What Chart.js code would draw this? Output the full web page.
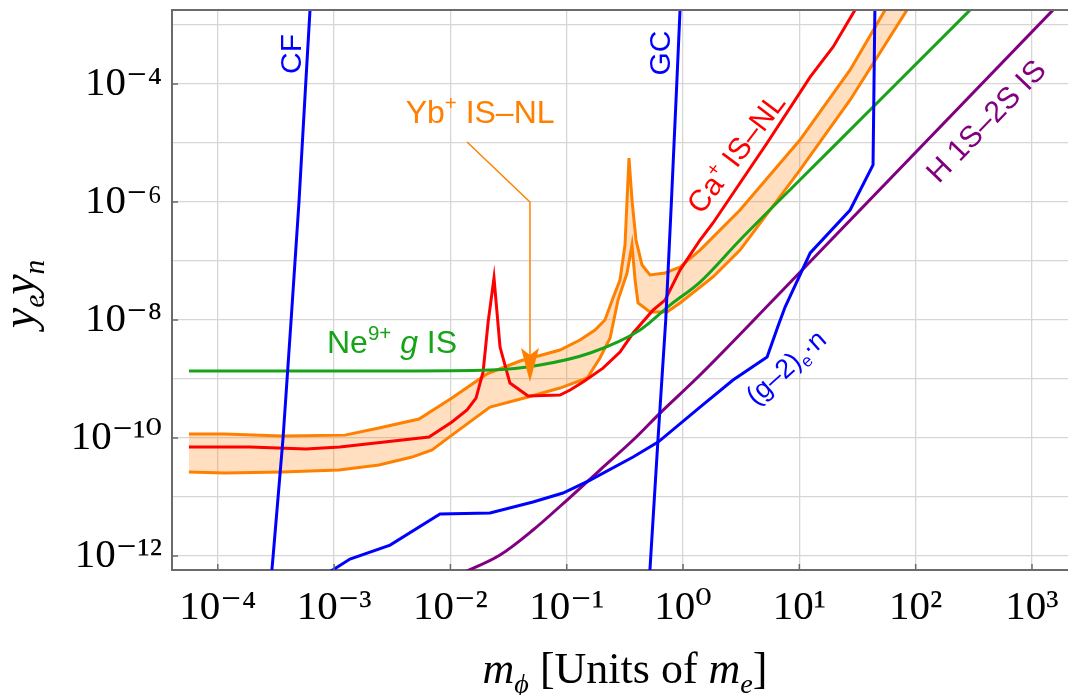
<!DOCTYPE html>
<html>
<head>
<meta charset="utf-8">
<script src="https://cdn.jsdelivr.net/npm/chart.js@4.4.0/dist/chart.umd.min.js"></script>
<style>
  html, body { margin: 0; padding: 0; background: #fff; }
</style>
</head>
<body>
<canvas id="boundChart" width="1068" height="695"></canvas>
<script>
// axes: m_phi [units of m_e] vs y_e*y_n, both log
var xTickValues = [1e-4, 1e-3, 1e-2, 1e-1, 1e0, 1e1, 1e2, 1e3];
var xTickLabels = ['10⁻⁴', '10⁻³', '10⁻²', '10⁻¹', '10⁰', '10¹', '10²', '10³'];
var yTickValues = [1e-12, 1e-11, 1e-10, 1e-9, 1e-8, 1e-7, 1e-6, 1e-5, 1e-4, 1e-3];
var yTickLabels = ['10⁻¹²', '', '10⁻¹⁰', '', '10⁻⁸', '', '10⁻⁶', '', '10⁻⁴', ''];

// CF (blue, left steep line)
var cfX = [2.70e-4, 2.99e-4, 3.64e-4, 4.27e-4, 4.99e-4, 5.70e-4, 6.53e-4];
var cfY = [1e-13, 1e-12, 1e-10, 1e-8, 1e-6, 1e-4, 1e-2];

// GC (blue, near m_phi = 1)
var gcX = [0.492, 0.528, 0.610, 0.710, 0.794, 0.883, 0.979];
var gcY = [1e-13, 1e-12, 1e-10, 1e-8, 1e-6, 1e-4, 1e-2];

// (g-2)_e * n (blue)
var g2X = [7.57e-4, 1.37e-3, 3.03e-3, 8.14e-3, 2.19e-2, 5.13e-2, 9.29e-2, 0.159, 0.372, 0.610, 1.40, 2.69, 5.28, 6.56, 7.54, 12.4, 27.3, 43.0, 44.8];
var g2Y = [4.24e-13, 8.89e-13, 1.53e-12, 5.15e-12, 5.36e-12, 8.22e-12, 1.17e-11, 1.94e-11, 4.76e-11, 8.55e-11, 3.35e-10, 9.62e-10, 2.36e-9, 7.91e-9, 1.66e-8, 1.37e-7, 7.31e-7, 4.24e-6, 3.92e-3];

// H 1S-2S IS (purple)
var hX = [1.21e-2, 2.67e-2, 5.13e-2, 0.1006, 0.193, 0.372, 0.634, 1.40, 6.43, 1518, 2128];
var hY = [4.95e-13, 1.04e-12, 2.76e-12, 8.89e-12, 2.87e-11, 9.25e-11, 2.65e-10, 1.17e-9, 2.55e-8, 1.80e-3, 3.62e-3];

// Ne9+ g IS (green)
var neX = [5.65e-5, 5.09e-4, 3.69e-3, 2.19e-2, 5.89e-2, 0.159, 0.427, 0.773, 1.40, 3.09, 10.1, 40.5, 294, 436];
var neY = [1.37e-9, 1.37e-9, 1.37e-9, 1.42e-9, 1.73e-9, 2.76e-9, 6.78e-9, 1.79e-8, 4.40e-8, 2.27e-7, 2.36e-6, 3.62e-5, 1.80e-3, 3.92e-3];

// Ca+ IS-NL (red)
var caX = [5.65e-5, 1.89e-4, 5.73e-4, 1.12e-3, 6.55e-3, 1.03e-2, 1.39e-2, 1.66e-2, 1.91e-2, 2.11e-2, 2.37e-2, 2.67e-2, 3.25e-2, 4.65e-2, 8.75e-2, 0.107, 0.138, 0.205, 0.287, 0.372, 0.552, 0.700, 0.942, 1.40, 1.81, 3.09, 5.28, 12.4, 19.5, 30.1, 40.5];
var caY = [7.03e-11, 7.03e-11, 6.52e-11, 7.03e-11, 1.04e-10, 1.87e-10, 2.99e-10, 4.76e-10, 1.32e-9, 9.25e-9, 5.15e-8, 3.48e-9, 8.55e-10, 5.15e-10, 5.36e-10, 6.52e-10, 8.89e-10, 1.53e-9, 2.87e-9, 6.02e-9, 1.47e-8, 2.18e-8, 7.03e-8, 2.27e-7, 4.41e-7, 2.10e-6, 1.0e-5, 1.32e-4, 4.24e-4, 1.80e-3, 4.76e-3];

// Yb+ IS-NL band (orange), upper and lower edge
var ybUpX = [5.65e-5, 1.15e-4, 3.56e-4, 1.24e-3, 2.43e-3, 5.37e-3, 1.03e-2, 2.06e-2, 3.97e-2, 8.75e-2, 0.130, 0.175, 0.213, 0.250, 0.287, 0.317, 0.343, 0.364, 0.394, 0.444, 0.520, 0.700, 0.942, 1.40, 3.09, 10.1, 27.3, 54.6, 73.5];
var ybUpY = [1.17e-10, 1.17e-10, 1.08e-10, 1.12e-10, 1.48e-10, 2.10e-10, 4.76e-10, 1.22e-9, 2.02e-9, 3.10e-9, 4.58e-9, 6.78e-9, 1.0e-8, 2.36e-8, 4.76e-8, 1.87e-7, 5.57e-6, 1.08e-6, 2.27e-7, 8.55e-8, 5.80e-8, 6.26e-8, 7.91e-8, 1.53e-7, 7.31e-7, 1.12e-5, 1.73e-4, 1.80e-3, 4.76e-3];
var ybLoX = [5.65e-5, 1.15e-4, 3.56e-4, 1.10e-3, 2.43e-3, 4.68e-3, 6.95e-3, 1.03e-2, 2.19e-2, 4.65e-2, 8.75e-2, 0.150, 0.193, 0.236, 0.276, 0.330, 0.364, 0.387, 0.410, 0.520, 0.728, 0.942, 1.81, 3.09, 10.1, 27.3, 84.3, 109];
var ybLoY = [2.65e-11, 2.55e-11, 2.65e-11, 2.87e-11, 3.48e-11, 4.76e-11, 6.26e-11, 1.12e-10, 3.35e-10, 4.96e-10, 7.03e-10, 1.04e-9, 2.27e-9, 4.96e-9, 2.18e-8, 6.26e-8, 1.87e-7, 4.76e-8, 1.94e-8, 1.37e-8, 1.37e-8, 1.94e-8, 5.36e-8, 1.53e-7, 3.48e-6, 5.36e-5, 1.80e-3, 3.92e-3];

// pointer from the Yb+ label down into the band
var arrowX = [1.39e-2, 4.83e-2, 4.83e-2];
var arrowY = [1.04e-5, 1.0e-6, 8.9e-10];

var BLUE = '#0000ff', RED = '#ff0000', ORANGE = '#ff8000', GREEN = '#17a317', PURPLE = '#800080';
var SANS = '"Liberation Sans", Arial, sans-serif';
var SERIF = '"Liberation Serif", "DejaVu Serif", serif';

var curveLabels = [
	{ parts: [{ t: 'CF' }], x: 5.2e-4, y: 3.22e-4, angle: -90, color: BLUE, size: 30 },
	{ parts: [{ t: 'GC' }], x: 0.773, y: 3.35e-4, angle: -90, color: BLUE, size: 30 },
	{ parts: [{ t: 'Yb' }, { t: '+', sup: true }, { t: ' IS–NL' }], x: 1.80e-2, y: 2.18e-5, angle: 0, color: ORANGE, size: 32 },
	{ parts: [{ t: 'Ne' }, { t: '9+', sup: true }, { t: ' ' }, { t: 'g', italic: true }, { t: ' IS' }], x: 3.15e-3, y: 2.76e-9, angle: 0, color: GREEN, size: 32 },
	{ parts: [{ t: 'Ca' }, { t: '+', sup: true }, { t: ' IS–NL' }], x: 3.35, y: 5.36e-6, angle: -53, color: RED, size: 30 },
	{ parts: [{ t: 'H 1S–2S IS' }], x: 463, y: 1.80e-5, angle: -46, color: PURPLE, size: 30 },
	{ parts: [{ t: '(g–2)' }, { t: 'e', sub: true }, { t: '·n' }], x: 8.65, y: 1.22e-9, angle: -42, color: BLUE, size: 27 }
];

function pts(xs, ys) {
	return xs.map(function (x, i) { return { x: x, y: ys[i] }; });
}

function drawRich(ctx, parts, x, y, deg, size, family, color) {
	ctx.save();
	ctx.translate(x, y);
	ctx.rotate(deg * Math.PI / 180);
	ctx.fillStyle = color;
	ctx.textAlign = 'left';
	ctx.textBaseline = 'alphabetic';
	var fonts = parts.map(function (p) {
		var s = (p.sup || p.sub) ? size * 0.64 : size;
		return (p.italic ? 'italic ' : '') + s.toFixed(1) + 'px ' + family;
	});
	var w = 0;
	parts.forEach(function (p, i) { ctx.font = fonts[i]; w += ctx.measureText(p.t).width; });
	var cx = -w / 2;
	parts.forEach(function (p, i) {
		ctx.font = fonts[i];
		var dy = p.sup ? -size * 0.40 : (p.sub ? size * 0.22 : 0);
		ctx.fillText(p.t, cx, dy);
		cx += ctx.measureText(p.t).width;
	});
	ctx.restore();
}

var notesPlugin = {
	id: 'notes',
	afterDraw: function (chart) {
		var ctx = chart.ctx, a = chart.chartArea;
		var xs = chart.scales.x, ys = chart.scales.y;
		ctx.save();
		// top edge of the frame
		ctx.strokeStyle = '#6b6b6b';
		ctx.lineWidth = 2;
		ctx.beginPath();
		ctx.moveTo(a.left - 1, a.top);
		ctx.lineTo(a.right, a.top);
		ctx.stroke();
		// small inward ticks
		ctx.lineWidth = 1.5;
		ctx.beginPath();
		xTickValues.forEach(function (v) {
			var px = xs.getPixelForValue(v);
			ctx.moveTo(px, a.bottom); ctx.lineTo(px, a.bottom - 6);
		});
		yTickValues.forEach(function (v, i) {
			if (!yTickLabels[i]) return;
			var py = ys.getPixelForValue(v);
			ctx.moveTo(a.left, py); ctx.lineTo(a.left + 6, py);
		});
		ctx.stroke();

		// arrow
		var ax = arrowX.map(function (v) { return xs.getPixelForValue(v); });
		var ay = arrowY.map(function (v) { return ys.getPixelForValue(v); });
		ctx.strokeStyle = ORANGE;
		ctx.fillStyle = ORANGE;
		ctx.lineWidth = 1.5;
		ctx.beginPath();
		ctx.moveTo(ax[0], ay[0]);
		ctx.lineTo(ax[1], ay[1]);
		ctx.lineTo(ax[2], ay[2] - 20);
		ctx.stroke();
		var tx = ax[2], ty = ay[2];
		ctx.beginPath();
		ctx.moveTo(tx, ty);
		ctx.lineTo(tx - 9, ty - 34);
		ctx.lineTo(tx, ty - 27);
		ctx.lineTo(tx + 9, ty - 34);
		ctx.closePath();
		ctx.fill();

		// curve labels
		curveLabels.forEach(function (l) {
			drawRich(ctx, l.parts, xs.getPixelForValue(l.x), ys.getPixelForValue(l.y), l.angle, l.size, SANS, l.color);
		});

		// axis titles
		drawRich(ctx, [{ t: 'm', italic: true }, { t: 'ϕ', italic: true, sub: true }, { t: ' [Units of ' }, { t: 'm', italic: true }, { t: 'e', italic: true, sub: true }, { t: ']' }],
			(a.left + a.right) / 2 + 5, chart.height - 12, 0, 44, SERIF, '#000');
		drawRich(ctx, [{ t: 'y', italic: true }, { t: 'e', italic: true, sub: true }, { t: 'y', italic: true }, { t: 'n', italic: true, sub: true }],
			34, (a.top + a.bottom) / 2 + 4, -90, 46, SERIF, '#000');
		ctx.restore();
	}
};

function lineSet(xs, ys, color, extra) {
	var ds = {
		data: pts(xs, ys),
		showLine: true,
		borderColor: color,
		borderWidth: 3,
		pointRadius: 0,
		pointHoverRadius: 0,
		fill: false,
		tension: 0,
		clip: 0
	};
	for (var k in extra) ds[k] = extra[k];
	return ds;
}

var bandPoints = pts(ybUpX, ybUpY).concat(pts(ybLoX, ybLoY).reverse());

const ctx = document.getElementById('boundChart');
new Chart(ctx, {
	type: 'scatter',
	data: {
		datasets: [
			lineSet(cfX, cfY, BLUE),
			lineSet(gcX, gcY, BLUE),
			lineSet(g2X, g2Y, BLUE),
			lineSet(hX, hY, PURPLE, { cubicInterpolationMode: 'monotone' }),
			lineSet(neX, neY, GREEN, { cubicInterpolationMode: 'monotone' }),
			lineSet(caX, caY, RED),
			lineSet(ybUpX, ybUpY, ORANGE),
			lineSet(ybLoX, ybLoY, ORANGE),
			{
				data: bandPoints,
				showLine: true,
				borderWidth: 0,
				borderColor: 'rgba(0,0,0,0)',
				backgroundColor: 'rgba(255,128,0,0.25)',
				pointRadius: 0,
				fill: 'shape',
				clip: 0
			}
		]
	},
	options: {
		responsive: false,
		animation: false,
		events: [],
		layout: { padding: { top: 10, right: 0, bottom: 0, left: 0 } },
		scales: {
			x: {
				type: 'logarithmic',
				min: 4.04e-5,
				max: 2.04e3,
				afterBuildTicks: function (s) { s.ticks = xTickValues.map(function (v) { return { value: v }; }); },
				afterFit: function (s) { s.height = 125; s.paddingLeft = 0; s.paddingRight = 0; },
				border: { display: true, color: '#6b6b6b', width: 2 },
				grid: { color: '#d6d6d6', lineWidth: 1.3, drawTicks: false },
				ticks: {
					autoSkip: false,
					maxRotation: 0,
					padding: 14,
					color: '#000',
					font: { family: SERIF, size: 41 },
					callback: function (v, i) { return xTickLabels[i]; }
				}
			},
			y: {
				type: 'logarithmic',
				min: 5.8e-13,
				max: 1.795e-3,
				afterBuildTicks: function (s) { s.ticks = yTickValues.map(function (v) { return { value: v }; }); },
				afterFit: function (s) { s.width = 172; s.paddingTop = 0; s.paddingBottom = 0; },
				border: { display: true, color: '#6b6b6b', width: 2 },
				grid: { color: '#d6d6d6', lineWidth: 1.3, drawTicks: false },
				ticks: {
					autoSkip: false,
					padding: 10,
					color: '#000',
					font: { family: SERIF, size: 41 },
					callback: function (v, i) { return yTickLabels[i]; }
				}
			}
		},
		plugins: {
			legend: { display: false },
			tooltip: { enabled: false }
		}
	},
	plugins: [notesPlugin]
});
</script>
</body>
</html>
